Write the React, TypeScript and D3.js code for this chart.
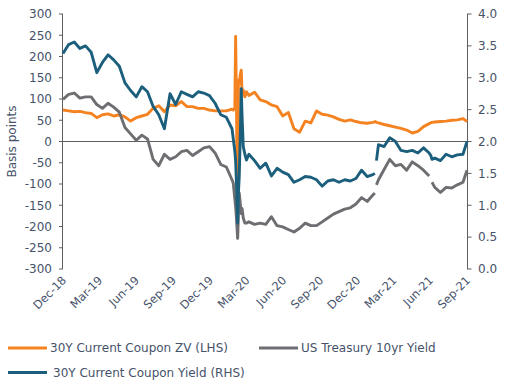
import React from 'react';
import * as d3 from 'd3';

// ---- data ----
const dates = [
  "2018-12-31","2019-01-14","2019-01-28","2019-02-11","2019-02-25","2019-03-11","2019-03-25","2019-04-08","2019-04-22","2019-05-06",
  "2019-05-20","2019-06-03","2019-06-17","2019-07-01","2019-07-15","2019-07-29","2019-08-12","2019-08-26","2019-09-09","2019-09-23",
  "2019-10-07","2019-10-21","2019-11-04","2019-11-18","2019-12-02","2019-12-16","2019-12-30","2020-01-13","2020-01-27","2020-02-10",
  "2020-02-24",
  "2020-02-27","2020-03-02","2020-03-04","2020-03-06","2020-03-09","2020-03-11","2020-03-13","2020-03-16","2020-03-18","2020-03-20",
  "2020-03-23","2020-03-27","2020-03-31",
  "2020-04-06","2020-04-20","2020-05-04","2020-05-18","2020-06-01","2020-06-15","2020-06-29","2020-07-13","2020-07-27","2020-08-10",
  "2020-08-24","2020-09-07","2020-09-21","2020-10-05","2020-10-19","2020-11-02","2020-11-16","2020-11-30","2020-12-14","2020-12-28",
  "2021-01-11","2021-01-25","2021-02-08",
  "2021-02-13","2021-02-14","2021-02-17",
  "2021-02-22","2021-03-08","2021-03-22","2021-04-05","2021-04-19","2021-05-03","2021-05-17","2021-05-31","2021-06-14","2021-06-28",
  "2021-07-02","2021-07-05",
  "2021-07-12","2021-07-26","2021-08-09","2021-08-23","2021-09-06","2021-09-20","2021-09-30",
];

// 30Y Current Coupon ZV spread, basis points (LHS)
const zvSpread: (number | null)[] = [
  74,72,70,71,68,66,56,63,65,60,
  63,58,48,56,60,64,78,84,70,86,
  84,94,82,82,78,78,74,72,72,72,
  76,
  74,78,247,100,-225,145,137,160,168,113,
  121,105,117,
  108,116,98,94,86,82,60,68,30,22,
  48,44,72,64,62,58,52,48,51,47,
  44,43,45,
  46,47,45,
  44,40,37,34,31,27,20,24,35,42,
  44,45,
  46,47,48,50,51,54,47,
];

// US Treasury 10yr yield, % (RHS)
const ust10y: (number | null)[] = [
  2.66,2.74,2.76,2.68,2.70,2.70,2.58,2.52,2.60,2.54,
  2.46,2.22,2.12,2.02,2.10,2.04,1.72,1.62,1.80,1.72,
  1.76,1.84,1.86,1.78,1.84,1.90,1.92,1.82,1.64,1.60,
  1.40,
  1.35,1.10,0.98,0.80,0.48,0.90,1.19,1.00,0.87,0.95,
  0.80,0.72,0.72,
  0.74,0.70,0.72,0.70,0.82,0.68,0.66,0.62,0.58,0.64,
  0.72,0.68,0.68,0.74,0.80,0.86,0.90,0.94,0.96,1.02,
  1.12,1.06,1.16,
  1.19,null,1.32,
  1.40,1.56,1.72,1.62,1.64,1.55,1.68,1.62,1.55,1.46,
  null,1.36,
  1.28,1.20,1.28,1.27,1.32,1.36,1.55,
];

// 30Y Current Coupon yield, % (RHS)
const ccYield: (number | null)[] = [
  3.38,3.52,3.56,3.46,3.50,3.40,3.08,3.24,3.36,3.28,
  3.18,2.92,2.80,2.70,2.86,2.78,2.55,2.42,2.20,2.75,
  2.58,2.78,2.74,2.70,2.78,2.76,2.72,2.60,2.42,2.38,
  2.20,
  2.05,1.85,1.70,1.35,0.72,1.20,1.45,2.20,2.83,2.40,
  1.92,1.80,1.71,
  1.80,1.70,1.58,1.66,1.46,1.58,1.52,1.48,1.36,1.40,
  1.45,1.44,1.40,1.30,1.38,1.40,1.36,1.40,1.38,1.42,
  1.55,1.45,1.48,
  1.50,null,1.70,
  1.95,1.92,2.06,2.00,1.86,1.84,1.86,1.82,1.90,1.82,
  1.78,1.72,
  1.74,1.70,1.80,1.76,1.79,1.80,2.00,
];

const leftTicks = [300, 250, 200, 150, 100, 50, 0, -50, -100, -150, -200, -250, -300];
const rightTicks = [4.0, 3.5, 3.0, 2.5, 2.0, 1.5, 1.0, 0.5, 0.0];
const xTickDates = ["2018-12-31","2019-03-31","2019-06-30","2019-09-30","2019-12-31","2020-03-31","2020-06-30","2020-09-30","2020-12-31","2021-03-31","2021-06-30","2021-09-30"];
const xTickLabels = ["Dec-18","Mar-19","Jun-19","Sep-19","Dec-19","Mar-20","Jun-20","Sep-20","Dec-20","Mar-21","Jun-21","Sep-21"];

const seriesNames = ["30Y Current Coupon ZV (LHS)", "US Treasury 10yr Yield", "30Y Current Coupon Yield (RHS)"];
const seriesColors = ["#f58220", "#6d6e71", "#1c5f7d"];

// ---- layout ----
const W = 506, H = 390;
const X0 = 63, X1 = 467, Y0 = 14, Y1 = 269;
const FONT = "'DejaVu Sans', sans-serif";
const TEXT = "#46526a";
const AXIS = "#5f5f5f";

export default function App() {
  const parse = d3.timeParse("%Y-%m-%d");
  const t = dates.map(d => parse(d) as Date);
  const x = d3.scaleTime()
    .domain([parse("2018-12-31") as Date, parse("2021-09-30") as Date])
    .range([X0, X1]);
  const yL = d3.scaleLinear().domain([-300, 300]).range([Y1, Y0]);
  const yR = d3.scaleLinear().domain([0, 4]).range([Y1, Y0]);

  const mk = (vals: (number | null)[], y: d3.ScaleLinear<number, number>) =>
    d3.line<number>()
      .defined(i => vals[i] != null)
      .x(i => x(t[i]))
      .y(i => y(vals[i] as number))(d3.range(vals.length)) || "";

  const paths = [mk(zvSpread, yL), mk(ust10y, yR), mk(ccYield, yR)];

  return (
    <svg width={W} height={H} style={{ position: 'absolute', left: 0, top: 0, background: '#fff' }}
      fontFamily={FONT}>
      {/* zero line */}
      <line x1={X0} x2={X1} y1={yL(0)} y2={yL(0)} stroke={AXIS} strokeWidth={1} />
      {/* left axis */}
      <line x1={X0 - 0.5} x2={X0 - 0.5} y1={Y0} y2={Y1} stroke={AXIS} strokeWidth={1} />
      {leftTicks.map(v => (
        <g key={'l' + v}>
          <line x1={X0 - 4} x2={X0} y1={yL(v)} y2={yL(v)} stroke={AXIS} strokeWidth={1} />
          <text x={52} y={yL(v) + 4.3} textAnchor="end" fontSize={12} fill={TEXT}>{v}</text>
        </g>
      ))}
      {/* right axis */}
      <line x1={X1 + 0.5} x2={X1 + 0.5} y1={Y0} y2={Y1} stroke={AXIS} strokeWidth={1} />
      {rightTicks.map(v => (
        <g key={'r' + v}>
          <line x1={X1} x2={X1 + 4.5} y1={yR(v)} y2={yR(v)} stroke={AXIS} strokeWidth={1} />
          <text x={478} y={yR(v) + 4.3} textAnchor="start" fontSize={12} fill={TEXT}>{v.toFixed(1)}</text>
        </g>
      ))}
      {/* y title */}
      <text transform={`translate(16,${(Y0 + Y1) / 2}) rotate(-90)`} textAnchor="middle" fontSize={12} fill={TEXT}>Basis points</text>
      {/* x labels */}
      {xTickDates.map((d, i) => (
        <text key={d} transform={`translate(${x(parse(d) as Date) + 4},${281}) rotate(-45)`}
          textAnchor="end" fontSize={11.5} fill={TEXT}>{xTickLabels[i]}</text>
      ))}
      {/* series */}
      {paths.map((p, i) => (
        <path key={i} d={p} fill="none" stroke={seriesColors[i]} strokeWidth={2.9} strokeLinejoin="round" />
      ))}
      {/* legend */}
      {[
        { x: 8, y: 348, tx: 50 },
        { x: 259, y: 348, tx: 301 },
        { x: 8, y: 372.5, tx: 53 },
      ].map((l, i) => (
        <g key={'lg' + i}>
          <line x1={l.x} x2={l.x + 39} y1={l.y} y2={l.y} stroke={seriesColors[i]} strokeWidth={3.2} />
          <text x={l.tx} y={l.y + 4.3} fontSize={12} fill={TEXT}>{seriesNames[i]}</text>
        </g>
      ))}
    </svg>
  );
}
